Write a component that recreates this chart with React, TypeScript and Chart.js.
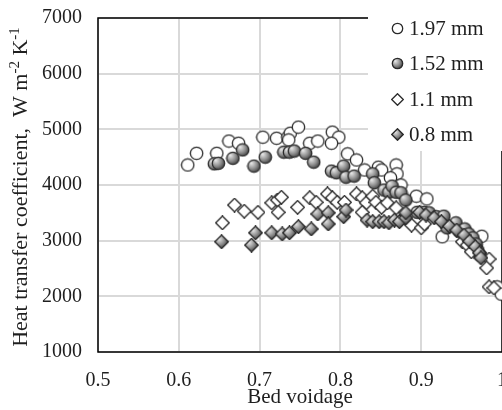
import React, { useEffect, useRef } from 'react';
import { Chart, registerables } from 'chart.js';

Chart.register(...registerables);

// ---- Data ----
const xTicks = [0.5, 0.6, 0.7, 0.8, 0.9, 1.0];
const yTicks = [1000, 2000, 3000, 4000, 5000, 6000, 7000];
const seriesLabels = ['1.97 mm', '1.52 mm', '1.1 mm', '0.8 mm'];

const d197X = [0.611, 0.622, 0.647, 0.662, 0.674, 0.704, 0.721, 0.735, 0.738, 0.748, 0.736, 0.762, 0.772, 0.790, 0.798, 0.789, 0.809, 0.820, 0.830, 0.847, 0.851, 0.869, 0.870, 0.862, 0.875, 0.894, 0.907, 0.926, 0.975, 0.994, 0.999];
const d197Y = [4360, 4570, 4570, 4790, 4750, 4860, 4840, 4860, 4930, 5040, 4810, 4750, 4790, 4950, 4860, 4750, 4560, 4450, 4270, 4320, 4270, 4360, 4200, 4130, 4000, 3800, 3750, 3070, 3080, 2170, 2040];

const d152X = [0.644, 0.649, 0.667, 0.679, 0.693, 0.707, 0.730, 0.737, 0.743, 0.757, 0.767, 0.789, 0.795, 0.804, 0.807, 0.817, 0.840, 0.842, 0.854, 0.860, 0.864, 0.869, 0.875, 0.881, 0.895, 0.904, 0.910, 0.919, 0.928, 0.932, 0.943, 0.947, 0.954, 0.959, 0.964, 0.968, 0.970, 0.973];
const d152Y = [4380, 4390, 4480, 4630, 4340, 4500, 4590, 4590, 4610, 4570, 4410, 4250, 4220, 4340, 4140, 4160, 4200, 4040, 3910, 3870, 3980, 3870, 3860, 3730, 3510, 3510, 3500, 3430, 3440, 3230, 3320, 3170, 3210, 3120, 3050, 2940, 2830, 2740];

const d110X = [0.654, 0.669, 0.681, 0.698, 0.715, 0.722, 0.727, 0.723, 0.747, 0.762, 0.770, 0.784, 0.790, 0.796, 0.805, 0.820, 0.827, 0.832, 0.840, 0.844, 0.851, 0.858, 0.827, 0.869, 0.879, 0.888, 0.900, 0.904, 0.951, 0.957, 0.962, 0.984, 0.981, 0.984, 0.990];
const d110Y = [3320, 3640, 3530, 3510, 3680, 3730, 3780, 3510, 3600, 3770, 3690, 3840, 3770, 3690, 3690, 3840, 3770, 3680, 3800, 3690, 3600, 3680, 3510, 3590, 3410, 3280, 3230, 3300, 2980, 2920, 2800, 2670, 2510, 2170, 2150];

const d080X = [0.653, 0.690, 0.695, 0.715, 0.728, 0.737, 0.748, 0.764, 0.772, 0.785, 0.785, 0.804, 0.807, 0.833, 0.840, 0.848, 0.854, 0.860, 0.867, 0.873, 0.881, 0.881, 0.898, 0.906, 0.916, 0.925, 0.935, 0.944, 0.953, 0.960, 0.967, 0.972, 0.974];
const d080Y = [2980, 2920, 3140, 3140, 3120, 3140, 3250, 3210, 3480, 3500, 3300, 3430, 3550, 3370, 3340, 3340, 3340, 3320, 3370, 3340, 3410, 3500, 3510, 3460, 3410, 3340, 3260, 3190, 3100, 2990, 2890, 2780, 2690];

const FONT = '"Liberation Serif", "Times New Roman", serif';
const TEXT_COLOR = '#1f1f1f';

function makeMarker(shape: 'circle' | 'diamond', filled: boolean, size = 15): HTMLCanvasElement {
  const c = document.createElement('canvas');
  c.width = size;
  c.height = size;
  const g = c.getContext('2d')!;
  const m = size / 2;
  const r = size / 2 - 1.3;
  g.beginPath();
  if (shape === 'circle') {
    g.arc(m, m, r, 0, Math.PI * 2);
  } else {
    const rr = r + 0.6;
    g.moveTo(m, m - rr);
    g.lineTo(m + rr, m);
    g.lineTo(m, m + rr);
    g.lineTo(m - rr, m);
    g.closePath();
  }
  if (filled) {
    const grad = g.createRadialGradient(m - r * 0.45, m - r * 0.5, 0, m - r * 0.2, m - r * 0.2, r * 1.5);
    grad.addColorStop(0, '#eeeeee');
    grad.addColorStop(0.55, '#8a8a8a');
    grad.addColorStop(1, '#262626');
    g.fillStyle = grad;
  } else {
    g.fillStyle = '#ffffff';
  }
  g.fill();
  g.lineWidth = 1.3;
  g.strokeStyle = '#2a2a2a';
  g.stroke();
  return c;
}

function toPoints(xs: number[], ys: number[]) {
  return xs.map((x, i) => ({ x, y: ys[i] }));
}

export default function App() {
  const ref = useRef<HTMLCanvasElement | null>(null);

  useEffect(() => {
    if (!ref.current) return;
    const markers = [
      makeMarker('circle', false),
      makeMarker('circle', true),
      makeMarker('diamond', false),
      makeMarker('diamond', true),
    ];
    const legendMarkers = [
      makeMarker('circle', false, 13),
      makeMarker('circle', true, 13),
      makeMarker('diamond', false, 13),
      makeMarker('diamond', true, 13),
    ];
    const dataSets = [
      toPoints(d197X, d197Y),
      toPoints(d152X, d152Y),
      toPoints(d110X, d110Y),
      toPoints(d080X, d080Y),
    ];

    const decor = {
      id: 'decor',
      beforeDatasetsDraw(chart: any) {
        const { ctx, chartArea: a } = chart;
        ctx.save();
        ctx.strokeStyle = '#000';
        ctx.lineWidth = 1.5;
        ctx.strokeRect(a.left, a.top, a.right - a.left, a.bottom - a.top);
        ctx.restore();
      },
      afterDatasetsDraw(chart: any) {
        const { ctx, chartArea: a } = chart;
        ctx.save();
        // legend box inside the plot (top-right)
        const boxLeft = a.right - 134;
        const boxBottom = a.top + 133;
        ctx.fillStyle = '#ffffff';
        ctx.fillRect(boxLeft, 0, chart.width - boxLeft, boxBottom);
        ctx.font = `21px ${FONT}`;
        ctx.fillStyle = TEXT_COLOR;
        ctx.textBaseline = 'middle';
        ctx.textAlign = 'left';
        seriesLabels.forEach((lab, i) => {
          const cy = a.top + 10 + i * 35.6;
          const mk = legendMarkers[i];
          ctx.drawImage(mk, Math.round(boxLeft + 29 - mk.width / 2), Math.round(cy - mk.height / 2));
          ctx.fillText(lab, boxLeft + 41, cy + 1);
        });
        ctx.restore();
      },
      afterDraw(chart: any) {
        const { ctx, chartArea: a } = chart;
        ctx.save();
        ctx.fillStyle = TEXT_COLOR;
        // x title
        ctx.font = `21px ${FONT}`;
        ctx.textAlign = 'center';
        ctx.textBaseline = 'middle';
        ctx.fillText('Bed voidage', (a.left + a.right) / 2, 397);
        // y title with superscripts
        const big = `22px ${FONT}`;
        const small = `15px ${FONT}`;
        const parts: { t: string; sup: boolean }[] = [
          { t: 'Heat transfer coefficient,  W m', sup: false },
          { t: '-2', sup: true },
          { t: ' K', sup: false },
          { t: '-1', sup: true },
        ];
        let total = 0;
        parts.forEach((p) => {
          ctx.font = p.sup ? small : big;
          total += ctx.measureText(p.t).width;
        });
        ctx.translate(20, (a.top + a.bottom) / 2 + 2);
        ctx.rotate(-Math.PI / 2);
        ctx.textAlign = 'left';
        ctx.textBaseline = 'alphabetic';
        let x = -total / 2;
        parts.forEach((p) => {
          ctx.font = p.sup ? small : big;
          ctx.fillText(p.t, x, p.sup ? -1 : 7);
          x += ctx.measureText(p.t).width;
        });
        ctx.restore();
      },
    };

    const chart = new Chart(ref.current, {
      type: 'scatter',
      data: {
        datasets: seriesLabels.map((label, i) => ({
          label,
          data: dataSets[i],
          pointStyle: markers[i] as any,
          pointRadius: 6,
          order: 4 - i,
          showLine: false,
        })),
      },
      options: {
        responsive: false,
        animation: false,
        events: [],
        layout: { padding: { top: 18, right: 58, left: 0, bottom: 0 } },
        plugins: {
          legend: { display: false },
          tooltip: { enabled: false },
        },
        scales: {
          x: {
            type: 'linear',
            min: xTicks[0],
            max: xTicks[xTicks.length - 1],
            afterBuildTicks: (s: any) => {
              s.ticks = xTicks.map((v) => ({ value: v }));
            },
            afterFit: (s: any) => {
              s.height = 58;
              s.paddingLeft = 0;
              s.paddingRight = 0;
            },
            grid: { color: '#d9d9d9', lineWidth: 2, drawTicks: false },
            border: { display: false },
            ticks: {
              padding: 17,
              color: TEXT_COLOR,
              font: { family: FONT, size: 20 },
              maxRotation: 0,
              autoSkip: false,
              callback: (v: any) => String(Math.round(Number(v) * 10) / 10),
            },
          },
          y: {
            type: 'linear',
            min: yTicks[0],
            max: yTicks[yTicks.length - 1],
            afterBuildTicks: (s: any) => {
              s.ticks = yTicks.map((v) => ({ value: v }));
            },
            afterFit: (s: any) => {
              s.width = 98;
              s.paddingTop = 0;
              s.paddingBottom = 0;
            },
            grid: { color: '#d9d9d9', lineWidth: 2, drawTicks: false },
            border: { display: false },
            ticks: {
              padding: 16,
              color: TEXT_COLOR,
              font: { family: FONT, size: 20 },
              autoSkip: false,
              callback: (v: any) => String(v),
            },
          },
        },
      },
      plugins: [decor],
    });
    return () => chart.destroy();
  }, []);

  return (
    <div style={{ position: 'fixed', left: 0, top: 0, width: 560, height: 410, overflow: 'hidden', background: '#fff' }}>
      <canvas ref={ref} width={560} height={410} style={{ display: 'block' }} />
    </div>
  );
}
